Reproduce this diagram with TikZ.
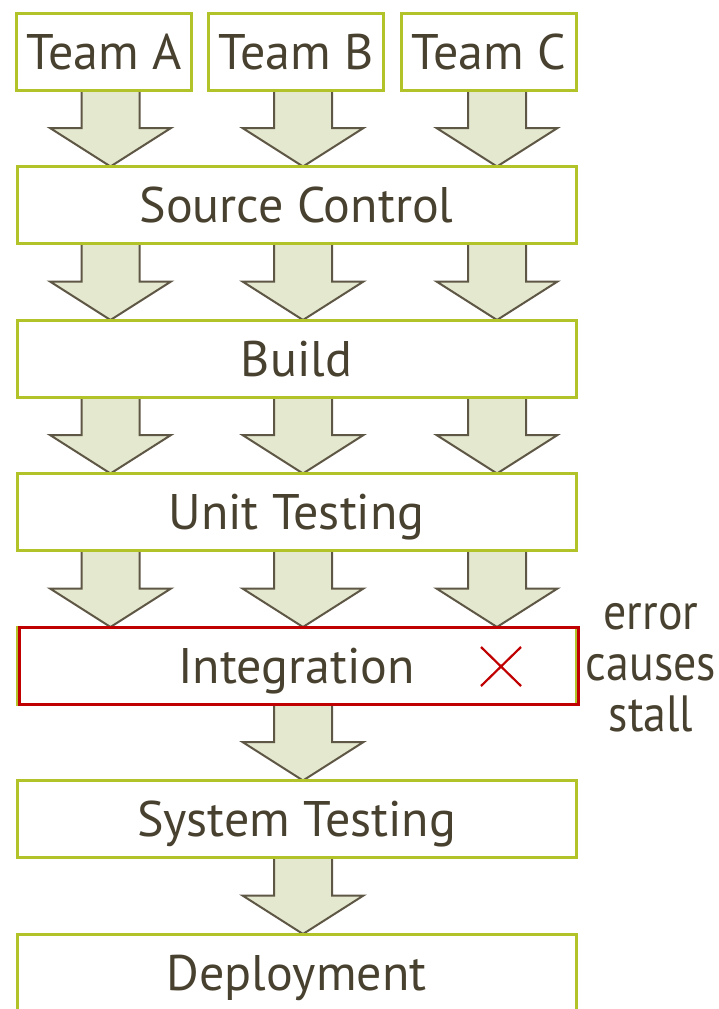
\documentclass[tikz,border=0pt]{standalone}
\usepackage{fontspec}
\setmainfont{PT Sans}
\newfontfamily\narrowsans[FakeStretch=0.9]{PT Sans}
\usetikzlibrary{backgrounds}
\definecolor{boxgreen}{HTML}{B2C229}
\definecolor{arrowfill}{HTML}{E3E8CE}
\definecolor{arrowline}{HTML}{5F5745}
\definecolor{txt}{HTML}{48412F}
\definecolor{errred}{HTML}{C00000}
\begin{document}
\begin{tikzpicture}[x=1pt,y=-1pt,
  stage/.style={draw=boxgreen, line width=3pt, fill=white, outer sep=0pt,
    inner sep=0pt, minimum height=77pt, text=txt,
    text height=35pt, text depth=0pt,
    font=\fontsize{50}{60}\selectfont},
  wide/.style={stage, minimum width=559pt},
  team/.style={stage, minimum width=175pt},
  blockarrow/.pic={
    \draw[fill=arrowfill, draw=arrowline, line width=2pt, line join=miter]
      (-29,0) -- (-29,38) -- (-60.5,38) -- (0,76.5) -- (60.5,38)
      -- (29,38) -- (29,0) -- cycle;
  }]
\useasboundingbox (0,0) rectangle (719,1009);
\clip (0,0) rectangle (719,1009);

% teams
\node[team] (ta) at (104,51.5) {Team A};
\node[team] (tb) at (296,51.5) {Team B};
\node[team] (tc) at (489,51.5) {Team C};

% pipeline stages
\node[wide] (src)   at (296.5,205)   {Source Control};
\node[wide] (build) at (296.5,358.5) {Build};
\node[wide] (unit)  at (296.5,512)   {Unit Testing};
\node[wide] (integ) at (296.5,665.5) {Integration};
\node[wide] (sys)   at (296.5,819)   {System Testing};
\node[wide] (dep)   at (296.5,972.5) {Deployment};

% failing stage outline and mark
\draw[errred, line width=3pt] ([xshift=2pt]integ.north west) rectangle ([xshift=2pt]integ.south east);
\draw[errred, line width=2.2pt] (481,647) -- (521,686) (521,647) -- (481,686);

\node[text=txt, font=\narrowsans\fontsize{51}{51}\selectfont, align=center,
  inner sep=0pt] (note) at (651,668) {error\\causes\\stall};

% arrow columns
\coordinate (c1) at (110.5,0);
\coordinate (c2) at (303,0);
\coordinate (c3) at (497,0);

\begin{scope}[on background layer]
  \pic at (c1 |- ta.south) {blockarrow};
  \pic at (c2 |- tb.south) {blockarrow};
  \pic at (c3 |- tc.south) {blockarrow};
  \foreach \s in {src,build,unit}{
    \pic at (c1 |- \s.south) {blockarrow};
    \pic at (c2 |- \s.south) {blockarrow};
    \pic at (c3 |- \s.south) {blockarrow};
  }
  \pic at (c2 |- integ.south) {blockarrow};
  \pic at (c2 |- sys.south) {blockarrow};
\end{scope}
\end{tikzpicture}
\end{document}
